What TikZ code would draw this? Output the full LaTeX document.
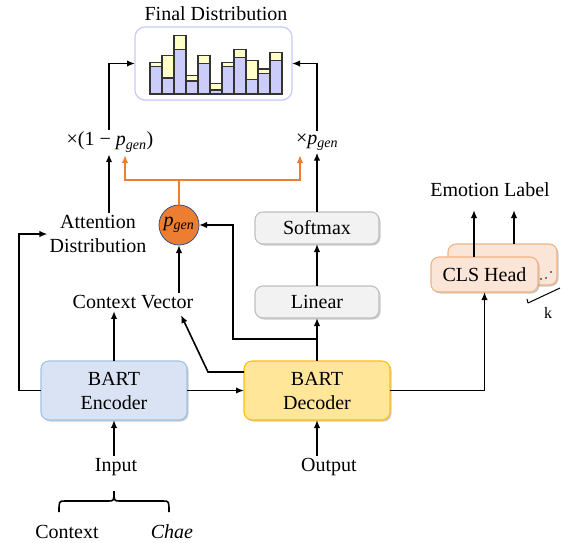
\documentclass[tikz,border=0pt]{standalone}
\usepackage{fontspec}
\setmainfont{Liberation Serif}
\usetikzlibrary{arrows.meta,shadows,calc}
\definecolor{barblue}{RGB}{204,204,250}
\definecolor{baryellow}{RGB}{255,255,200}
\definecolor{encfill}{RGB}{218,227,243}
\definecolor{encdraw}{RGB}{157,195,230}
\definecolor{decfill}{RGB}{255,230,153}
\definecolor{decdraw}{RGB}{255,192,0}
\definecolor{grayfill}{RGB}{242,242,242}
\definecolor{graydraw}{RGB}{191,191,191}
\definecolor{clsfill}{RGB}{251,229,214}
\definecolor{clsdraw}{RGB}{244,177,131}
\definecolor{orangec}{RGB}{237,125,49}
\definecolor{pgendraw}{RGB}{47,82,143}
\definecolor{distdraw}{RGB}{200,204,245}
\newcommand{\pgen}{{\itshape p}\textsubscript{\itshape gen}}
\begin{document}
\begin{tikzpicture}[x=1pt,y=-1pt,
  font=\fontsize{20}{25}\selectfont,
  arr/.style={line width=1.6pt,-{Latex[length=8pt,width=6.5pt]}},
  oarr/.style={line width=1.6pt,draw=orangec,-{Latex[length=8pt,width=6.5pt]}},
  plain/.style={line width=1.6pt},
  boxbase/.style={rounded corners=8pt,line width=1.1pt,inner sep=0pt,outer sep=0pt,align=center,
     drop shadow={shadow xshift=1.5pt,shadow yshift=-1.5pt,fill=black!45,opacity=0.45}},
  encbox/.style={boxbase,fill=encfill,draw=encdraw,minimum width=146pt,minimum height=59pt},
  decbox/.style={boxbase,fill=decfill,draw=decdraw,minimum width=146pt,minimum height=59pt},
  graybox/.style={boxbase,fill=grayfill,draw=graydraw,minimum width=124pt,minimum height=32pt},
  clsbox/.style={boxbase,fill=clsfill,draw=clsdraw},
  lbl/.style={inner sep=2pt,align=center},
  bar/.style={draw=black!80,line width=1.1pt}
]
\useasboundingbox (0,0) rectangle (562,542);

% Final distribution
\node[lbl] (title) at (216,14) {Final Distribution};
\node[rounded corners=10pt,draw=distdraw,line width=1.2pt,fill=white,minimum width=157pt,minimum height=73pt,inner sep=0pt,outer sep=0pt,
  drop shadow={shadow xshift=0pt,shadow yshift=-1pt,fill=distdraw,opacity=0.4}] (dist) at (213.5,63.5) {};
\foreach \i/\yt/\bt in {1/62.3/66.7,2/55.3/78,3/35.7/49.3,4/75.7/81,5/55.3/63.3,6/83.3/90,7/62.3/66.7,8/49.3/57.3,9/60.3/79.3,10/69/73.7,11/52.3/60.3}{
  \pgfmathsetmacro{\xl}{150+12*(\i-1)}
  \pgfmathsetmacro{\xr}{\xl+12}
  \filldraw[bar,fill=baryellow] (\xl,\yt) rectangle (\xr,\bt);
  \filldraw[bar,fill=barblue] (\xl,\bt) rectangle (\xr,94);
}
\draw[line width=1.3pt,black!80] (150,94) -- (282,94);

% multiplier labels
\node[lbl] (xa) at (110,142) {×(1 − \pgen)};
\node[lbl] (xp) at (317,142) {×\pgen};

% pgen circle
\node[circle,fill=orangec,draw=pgendraw,line width=0.8pt,minimum size=40pt,inner sep=0pt,outer sep=0pt] (pg) at (179,225) {\pgen};

% text labels
\node[lbl] (attn) at (98,234) {Attention\\[-1pt]Distribution};
\node[lbl] (ctx) at (133,302) {Context Vector};

% gray boxes
\node[graybox] (soft) at (317,228) {Softmax};
\node[graybox] (lin) at (317,302) {Linear};

% BART boxes
\node[encbox] (enc) at (114,390.5) {BART\\[-1pt]Encoder};
\node[decbox] (dec) at (317,390.5) {BART\\[-1pt]Decoder};

% CLS heads
\node[clsbox,minimum width=109pt,minimum height=41pt] (clsb) at (502.5,264.5) {};
\node[clsbox,minimum width=107pt,minimum height=35pt] (clsf) at (484.5,274.5) {CLS Head};
\fill (541,279) circle (0.9pt) (546,278) circle (0.9pt) (551,272) circle (0.9pt);
\node[lbl] (emo) at (490,190) {Emotion Label};
\node[lbl,font=\fontsize{16}{18}\selectfont] (k) at (548,313) {k};
\coordinate (ka) at (528,303);
\coordinate (kb) at (560,288);
\draw[line width=1pt] (ka) -- (kb);
\draw[line width=1pt] (ka) -- ++(-1,-4);

% input/output
\node[lbl] (inp) at (116,467) {Input};
\node[lbl] (outp) at (329,467) {Output};
\node[lbl] (cont) at (67,532) {Context};
\node[lbl] (chae) at (172,532) {\itshape Chae};
\coordinate (bl) at (59,512);
\coordinate (brr) at (169,512);
\coordinate (bm) at (114,491);
\draw[line width=1.6pt] (bl) .. controls (59,501) .. (65,501) -- (108,501)
   .. controls (114,501) .. (bm) .. controls (114,501) .. (120,501) -- (163,501)
   .. controls (169,501) .. (brr);

% connectors
\draw[arr] (enc.east) -- (dec.west);
\draw[arr] (enc.west) -- ++(-22,0) |- (attn.west);
\draw[arr] (enc.north) -- (enc.north |- ctx.south);
\draw[arr] (pg.south |- ctx.north) -- (pg.south);
\coordinate (dk) at (208,372);
\coordinate (cvin) at (181,315);
\draw[arr] (dec.west |- dk) -- (dk) -- (cvin);
\draw[arr] (dec.north) -- (lin.south);
\coordinate (br) at (317,339);
\draw[arr] (br) -- ++(-84,0) |- (pg.east);
\draw[arr] (lin.north) -- (soft.south);
\draw[arr] (soft.north) -- (soft.north |- xp.south);
\draw[arr] (soft.north |- xp.north) |- (dist.east);
\coordinate (xax) at (109,0);
\draw[arr] (attn.north -| xax) -- (xa.south -| xax);
\draw[arr] (xa.north -| xax) |- (dist.west);
\coordinate (oj) at (179,180);
\coordinate (oa) at (125,155);
\coordinate (ob) at (300,155);
\draw[plain,draw=orangec] (pg.north) -- (oj);
\draw[oarr] (oj) -| (oa);
\draw[oarr] (oj) -| (ob);
\draw[arr] (dec.east) -| (clsf.south);
\coordinate (e1) at (474,210);
\coordinate (e2) at (514,210);
\draw[arr] (clsf.north -| e1) -- (e1);
\draw[arr] (clsb.north -| e2) -- (e2);
\draw[arr] (enc.south |- inp.north) -- (enc.south);
\draw[arr] (dec.south |- outp.north) -- (dec.south);
\end{tikzpicture}
\end{document}
